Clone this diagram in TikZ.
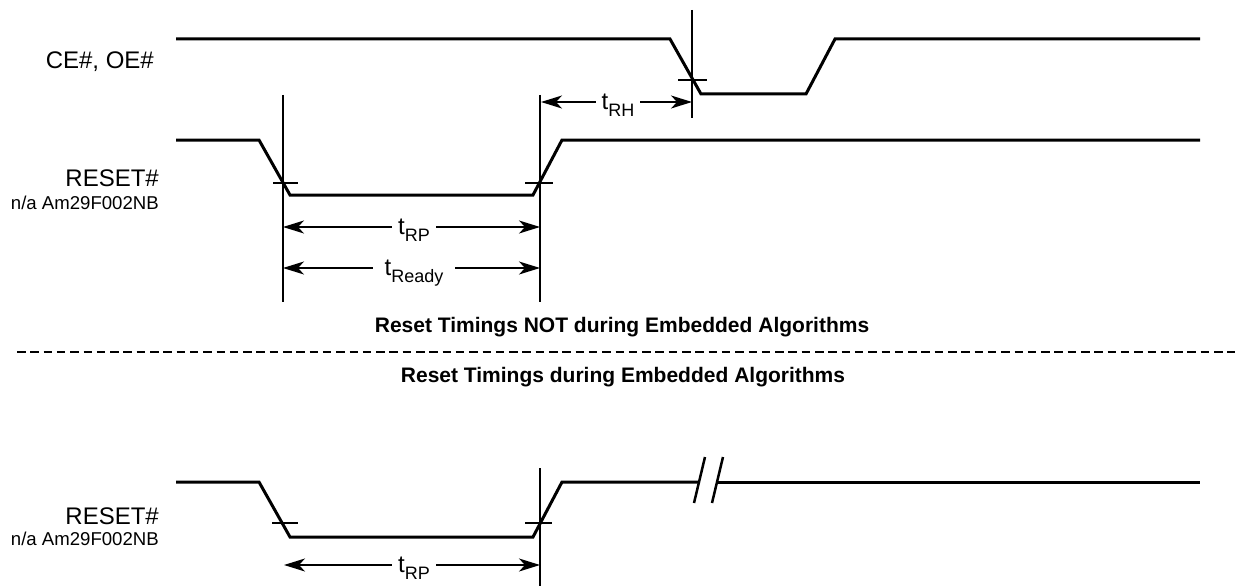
\documentclass[tikz,border=0pt]{standalone}
\usepackage{fontspec}
\setmainfont{Liberation Sans}
\usetikzlibrary{arrows.meta}
\newcommand\tsub[1]{t\raisebox{-7pt}{\fontsize{18}{18}\selectfont #1}}
\begin{document}
\begin{tikzpicture}[x=1pt,y=-1pt,
  wave/.style={line width=3pt, line join=miter},
  thinln/.style={line width=1.3pt},
  dimarrow/.style={line width=1.3pt,
    {Stealth[length=21pt,width=13pt,inset=6pt]}-{Stealth[length=21pt,width=13pt,inset=6pt]}},
  sig/.style={font=\fontsize{24}{24}\selectfont, inner sep=0pt, anchor=base east},
  subsig/.style={font=\fontsize{18.6}{18.6}\selectfont, inner sep=0pt, anchor=base east},
  caption/.style={font=\bfseries\fontsize{21}{21}\selectfont, inner sep=0pt, anchor=base},
  tlabel/.style={font=\fontsize{24}{24}\selectfont, fill=white, inner ysep=0pt, inner xsep=6pt, anchor=base}]
\useasboundingbox (0,0) rectangle (1235,586);

% signal names
\node[sig] (ce) at (154,69) {CE\#, OE\#};
\node[sig] (rst1) at (159,186) {RESET\#};
\node[subsig] (na1) at (159,209) {n/a Am29F002NB};
\node[sig] (rst2) at (159,524) {RESET\#};
\node[subsig] (na2) at (159,545) {n/a Am29F002NB};

% captions and separator
\node[caption] (cap1) at (622,332) {Reset Timings NOT during Embedded Algorithms};
\node[caption] (cap2) at (623,382) {Reset Timings during Embedded Algorithms};
\coordinate (sepL) at (17,352);
\coordinate (sepR) at (1235,352);
\draw[line width=2.5pt, dash pattern=on 8.5pt off 4.8pt] (sepL) -- (sepR);

% waveforms
\draw[wave] (176,39) -- (670,39) -- (701,94) -- (806,94) -- (835,39) -- (1200,39);
\draw[wave] (176,140) -- (259,140) -- (290,195) -- (533,195) -- (562,140) -- (1200,140);
\draw[wave] (176,482) -- (259,482) -- (290,537) -- (533,537) -- (562,482) -- (698,482);
\draw[wave] (717,482) -- (1200,482);
\draw[line width=2.5pt] (694,503) -- (705,457);
\draw[line width=2.5pt] (712,503) -- (723,457);

% reference markers
\draw[thinln] (692,10) -- (692,118);
\draw[thinln] (678,80) -- (707,80);
\draw[thinln] (283,95) -- (283,302);
\draw[thinln] (540,95) -- (540,302);
\draw[thinln] (273,183) -- (298,183);
\draw[thinln] (525,183) -- (553,183);
\draw[thinln] (540,468) -- (540,586);
\draw[thinln] (272,523) -- (298,523);
\draw[thinln] (525,523) -- (552,523);

% dimension arrows
\coordinate (rhA) at (541,102); \coordinate (rhB) at (692,102);
\coordinate (rpA) at (283,227); \coordinate (rpB) at (540,227);
\coordinate (rdA) at (283,268); \coordinate (rdB) at (540,268);
\coordinate (rqA) at (284,565); \coordinate (rqB) at (540,565);
\draw[dimarrow] (rhA) -- (rhB);
\draw[dimarrow] (rpA) -- (rpB);
\draw[dimarrow] (rdA) -- (rdB);
\draw[dimarrow] (rqA) -- (rqB);
\node[tlabel] (trh) at (618,110) {\tsub{RH}};
\node[tlabel] (trp1) at (414,234) {\tsub{RP}};
\node[tlabel, inner xsep=12pt] (trdy) at (414,275) {\tsub{Ready}};
\node[tlabel] (trp2) at (414,572) {\tsub{RP}};
\end{tikzpicture}
\end{document}
